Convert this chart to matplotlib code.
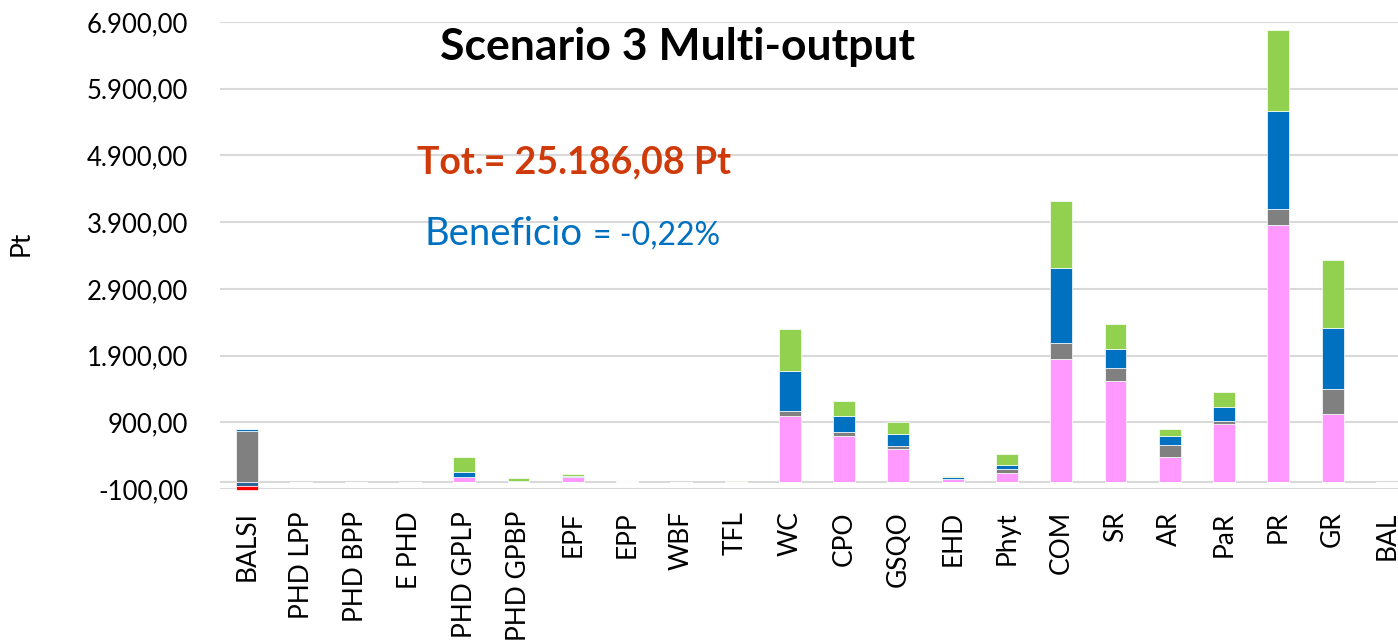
import numpy as np
import matplotlib
matplotlib.use("Agg")
from matplotlib import pyplot as plt
from matplotlib.ticker import FuncFormatter

plt.rcParams['font.family'] = ['Lato', 'DejaVu Sans']

categories = ["BALSI", "PHD LPP", "PHD BPP", "E PHD", "PHD GPLP", "PHD GPBP", "EPF", "EPP",
              "WBF", "TFL", "WC", "CPO", "GSQO", "EHD", "Phyt", "COM", "SR", "AR", "PaR",
              "PR", "GR", "BAL"]

# stacked positive parts (Pt)
pink = [0, 0, 0, 0, 85, 10, 75, 0, 0, 0, 1000, 695, 505, 50, 140, 1850, 1525, 385, 880, 3850, 1020, 0]
gray = [770, 8, 8, 8, 0, 0, 0, 15, 8, 8, 70, 65, 45, 0, 60, 235, 185, 175, 40, 250, 375, 8]
blue = [30, 0, 0, 0, 70, 15, 25, 0, 0, 0, 605, 235, 180, 30, 65, 1130, 290, 130, 210, 1460, 915, 0]
green = [0, 0, 0, 0, 225, 35, 25, 0, 0, 5, 625, 225, 175, 20, 155, 1000, 375, 110, 225, 1215, 1025, 0]
# negative parts (only BALSI)
darkblue_neg = [-50] + [0] * 21
red_neg = [-70] + [0] * 21

yticks = np.arange(-100, 6901, 1000)

fig = plt.figure(figsize=(13.98, 6.43), dpi=100)
W, H = 1398, 643
ax = fig.add_axes([220 / W, (H - 489) / H, 1194 / W, 467 / H])

x = np.arange(len(categories))
w = 0.405
kw = dict(width=w, edgecolor='white', linewidth=0.5, zorder=3)

bottom = np.zeros(len(categories))
for vals, col in [(pink, '#FF99FF'), (gray, '#808080'), (blue, '#0070C0'), (green, '#92D050')]:
    v = np.array(vals, dtype=float)
    ax.bar(x, v, bottom=bottom, color=col, **kw)
    bottom += v

dn = np.array(darkblue_neg, dtype=float)
ax.bar(x, dn, color='#2F6496', clip_on=False, **kw)
ax.bar(x, np.array(red_neg, dtype=float), bottom=dn, color='#FF0000', clip_on=False, **kw)

ax.set_xlim(-0.5, len(categories) - 0.5)
ax.set_ylim(-100, 6900)
ax.set_yticks(yticks)


def euro(v, pos):
    s = f"{abs(v):,.2f}".replace(',', 'X').replace('.', ',').replace('X', '.')
    return ('-' if v < 0 else '') + s


ax.yaxis.set_major_formatter(FuncFormatter(euro))
ax.grid(axis='y', color='#D9D9D9', linewidth=1.5, zorder=0)
ax.axhline(0, color='#D9D9D9', linewidth=1.5, zorder=1)
for s in ax.spines.values():
    s.set_visible(False)
ax.tick_params(axis='y', length=0, pad=23, labelsize=18.5)
ax.set_xticks(x)
ax.set_xticklabels(categories, rotation=90, va='top', ha='center')
ax.tick_params(axis='x', length=0, pad=16, labelsize=19)

fig.text(21 / W, 1 - 243 / H, 'Pt', rotation=90, ha='center', va='center', fontsize=19)

fig.text(677 / W, 1 - 60 / H, 'Scenario 3 Multi-output', ha='center', va='baseline',
         fontsize=32, fontweight='bold', color='black')
fig.text(574 / W, 1 - 173 / H, 'Tot.= 25.186,08 Pt', ha='center', va='baseline',
         fontsize=27, fontweight='bold', color='#CF3A0A')
fig.text(425 / W, 1 - 245 / H, 'Beneficio', ha='left', va='baseline',
         fontsize=27.5, color='#0070C0')
fig.text(593 / W, 1 - 245 / H, '= -0,22%', ha='left', va='baseline',
         fontsize=23, color='#0070C0')

fig.savefig('out.png', dpi=100)
